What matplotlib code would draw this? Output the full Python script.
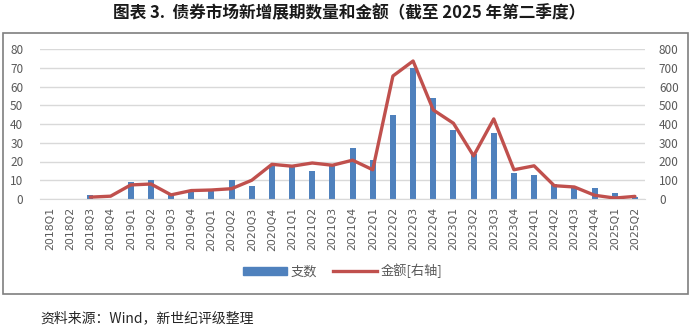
import matplotlib
matplotlib.use("Agg")
import matplotlib.pyplot as plt
import numpy as np
from matplotlib.patches import Rectangle
from matplotlib.lines import Line2D
from matplotlib.patches import Patch

plt.rcParams['font.family'] = ['Noto Sans CJK SC', 'DejaVu Sans']

quarters = [f"{y}Q{q}" for y in range(2018, 2026) for q in range(1, 5)][:30]
counts = [0, 0, 2, 0, 9, 10, 2, 5, 5, 10, 7, 18, 17, 15, 18, 27,
          21, 45, 70, 54, 37, 24, 35, 14, 13, 8, 6, 6, 3, 1]
amounts = [np.nan, np.nan, 10, 15, 75, 80, 22, 45, 48, 55, 100, 185, 175, 192, 180, 207,
           156, 656, 736, 475, 404, 230, 427, 156, 177, 71, 64, 20, 5, 14]

bar_color = "#4F81BD"
line_color = "#C0504D"
tick_color = "#595959"
grid_color = "#D9D9D9"

fig = plt.figure(figsize=(6.92, 3.3), dpi=100)
ax = fig.add_axes([40/692, 1-199/330, 605/692, 150/330])
ax2 = ax.twinx()

x = np.arange(len(quarters))
ax.bar(x, counts, width=0.3, color=bar_color, zorder=2)
ax2.plot(x, amounts, color=line_color, linewidth=2.4, zorder=3, solid_capstyle='round')

ax.set_xlim(-0.5, len(quarters) - 0.5)
ax.set_ylim(0, 80)
ax2.set_ylim(0, 800)
ax.set_yticks(range(0, 81, 10))
ax2.set_yticks(range(0, 801, 100))
ax.yaxis.grid(True, color=grid_color, linewidth=1.0, zorder=0)
ax.set_axisbelow(True)
ax.set_xticks(x)
ax.set_xticklabels(quarters, rotation=90, fontsize=7.8, color=tick_color,
                   family=['DejaVu Sans'])
for a in (ax, ax2):
    for s in a.spines.values():
        s.set_visible(False)
    a.tick_params(axis='both', length=0, colors=tick_color, labelsize=8.5)
ax.spines['bottom'].set_visible(True)
ax.spines['bottom'].set_color(grid_color)
ax.tick_params(axis='x', pad=6, labelsize=7.8)
ax.tick_params(axis='y', pad=12)
ax2.tick_params(axis='y', pad=10)
ax.set_zorder(ax2.get_zorder() - 1)
ax2.patch.set_visible(False)

handles = [Patch(color=bar_color), Line2D([0], [0], color=line_color, linewidth=2.4)]
fig.legend(handles, ["支数", "金额[右轴]"], loc='center', bbox_to_anchor=(343/692, 1-271/330),
           ncol=2, frameon=False, fontsize=9.5, handlelength=3.3, handleheight=0.55,
           columnspacing=1.2, handletextpad=0.3, labelcolor=tick_color)

fig.patches.append(Rectangle((3/692, 1-294/330), 685/692, 261/330, transform=fig.transFigure,
                             fill=False, edgecolor="#7F7F7F", linewidth=1.2))

fig.text(349/692, 1-13/330, "图表 3.  债券市场新增展期数量和金额（截至 2025 年第二季度）",
         ha='center', va='center', fontsize=12, fontweight='bold', color='#1a1a1a')
fig.text(40/692, 1-318/330, "资料来源：Wind，新世纪评级整理", ha='left', va='center',
         fontsize=10, color='#262626')

fig.savefig("out.png", dpi=100)
